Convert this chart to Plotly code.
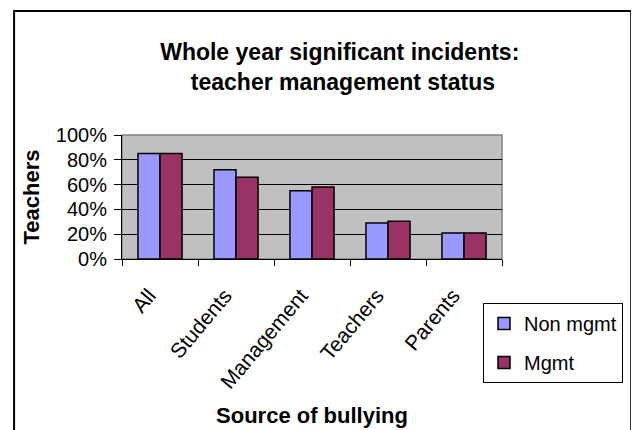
import plotly.graph_objects as go

sources = ['All', 'Students', 'Management', 'Teachers', 'Parents']
non_mgmt = [0.85, 0.72, 0.55, 0.29, 0.21]
mgmt = [0.85, 0.66, 0.58, 0.305, 0.21]

FONT = 'Liberation Sans, Arial, sans-serif'
W, H = 639, 430
OFF = 8  # page body margin shifts the figure by 8px

fig = go.Figure(data=[
    go.Bar(name='Non mgmt', x=sources, y=non_mgmt, marker_color='#9999FF',
           marker_line=dict(color='black', width=1.5), legendgroup='a'),
    go.Bar(name='Mgmt', x=sources, y=mgmt, marker_color='#993366',
           marker_line=dict(color='black', width=1.5), legendgroup='b'),
])

fig.update_layout(
    width=W, height=H,
    margin=dict(l=122 - OFF, r=W - (502.5 - OFF), t=134.5 - OFF, b=H - (259 - OFF),
                autoexpand=False),
    paper_bgcolor='white',
    plot_bgcolor='#C0C0C0',
    font=dict(family=FONT, color='black', size=19),
    title=dict(
        text='<b>Whole year significant incidents:<br> teacher management status</b>',
        font=dict(size=23),
        x=0.573, xref='paper', xanchor='center',
        y=1 - (60 - OFF) / H, yref='container', yanchor='top',
    ),
    barmode='group',
    bargap=0.42,
    bargroupgap=0,
    showlegend=True,
    legend=dict(
        x=(483 - OFF) / W, y=1 - (303 - OFF) / H, xref='container', yref='container',
        xanchor='left', yanchor='top',
        bgcolor='white', bordercolor='black', borderwidth=1,
        font=dict(size=20), tracegroupgap=10,
        itemwidth=30,
    ),
)

fig.update_yaxes(
    range=[0, 1], dtick=0.2, tickformat='.0%',
    showgrid=True, gridcolor='black', gridwidth=1,
    showline=True, linecolor='black', linewidth=1,
    ticks='outside', ticklen=7, tickcolor='black',
    tickfont=dict(size=20), ticklabelstandoff=3,
    zeroline=False,
    title=dict(text='<b>Teachers</b>', font=dict(size=22), standoff=10),
)
fig.update_xaxes(
    tickangle=-50, tickson='boundaries',
    showline=True, linecolor='black', linewidth=1,
    ticks='outside', ticklen=6, tickcolor='black',
    tickfont=dict(size=21), ticklabelstandoff=15, ticklabelshift=-11,
    title=dict(text='<b>Source of bullying</b>', font=dict(size=22), standoff=15),
)

# grey plot area border and outer chart frame
fig.add_shape(type='rect', xref='paper', yref='paper', x0=0, x1=1, y0=0, y1=1,
              line=dict(color='#808080', width=1.5), layer='below')
fig.add_shape(type='rect', xref='paper', yref='paper', x0=-0.284, x1=1.340,
              y0=-1.5, y1=2.0, line=dict(color='black', width=2))

fig.write_html("out.html")
